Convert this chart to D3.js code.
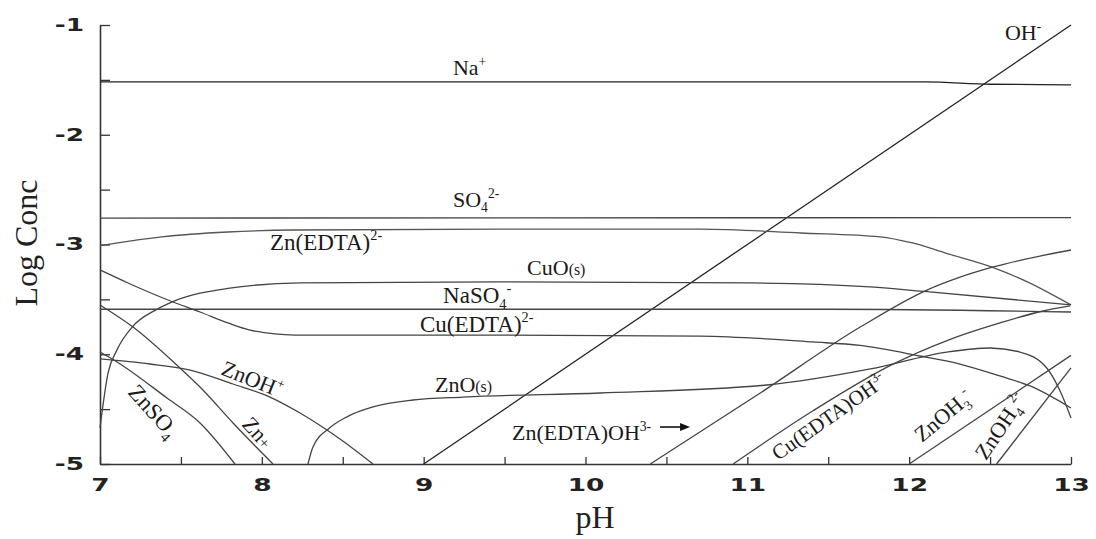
<!DOCTYPE html>
<html><head><meta charset="utf-8">
<script src="https://cdn.jsdelivr.net/npm/d3@7"></script>
<style>body{margin:0;background:#fff}svg{display:block}</style>
</head><body><svg id="c" width="1096" height="539"></svg>
<script>
// ---- data (pH, log concentration) ----
const xTicks = [7, 8, 9, 10, 11, 12, 13];
const yTicks = [-5, -4, -3, -2, -1];
const naPlus = [[7, -1.519], [12.1, -1.519], [12.5, -1.54], [13, -1.545]];
const ohMinus = [[9, -5], [13, -1]];
const so4 = [[7, -2.759], [13, -2.755]];
const znEdta = [[7.0, -3.01], [7.38, -2.93], [7.79, -2.886], [8.2, -2.868], [9.47, -2.86], [10.71, -2.86], [11.33, -2.895], [11.82, -2.93], [12.02, -2.986], [12.23, -3.08], [12.52, -3.21], [12.73, -3.34], [13.0, -3.55]];
const cuO = [[7.0, -4.67], [7.05, -4.17], [7.105, -3.96], [7.2, -3.75], [7.34, -3.6], [7.45, -3.52], [7.79, -3.4], [8.24, -3.35], [9.47, -3.34], [11.02, -3.35], [11.76, -3.387], [12.11, -3.43], [13.0, -3.55]];
const naSO4 = [[7, -3.59], [11.5, -3.59], [13, -3.615]];
const cuEdta = [[7.0, -3.232], [7.173, -3.351], [7.451, -3.524], [7.618, -3.615], [7.79, -3.715], [7.927, -3.78], [8.205, -3.825], [9.47, -3.825], [10.71, -3.834], [11.406, -3.888], [11.696, -3.92], [12.067, -4.016], [12.314, -4.089], [12.56, -4.198], [12.747, -4.289], [13.0, -4.49]];
const znO = [[8.285, -5.0], [8.316, -4.845], [8.42, -4.67], [8.526, -4.57], [8.687, -4.48], [8.934, -4.417], [9.243, -4.39], [10.09, -4.353], [11.12, -4.28], [11.76, -4.134], [12.234, -3.98], [12.5, -3.943], [12.685, -3.98], [12.85, -4.125], [12.93, -4.326], [13.0, -4.58]];
const znEdtaOH = [[10.4, -5.0], [11.08, -4.353], [11.7, -3.75], [12.11, -3.415], [12.31, -3.3], [12.52, -3.205], [13.0, -3.05]];
const cuEdtaOH = [[10.912, -5.0], [11.406, -4.515], [11.9, -4.09], [12.234, -3.875], [12.561, -3.715], [12.827, -3.606], [12.994, -3.56]];
const znOH3 = [[12.0, -5.0], [13.0, -4.01]];
const znOH4 = [[12.54, -5.0], [13.0, -4.125]];
const znOHplus = [[7.0, -4.043], [7.309, -4.089], [7.556, -4.144], [7.822, -4.271], [8.05, -4.39], [8.236, -4.535], [8.483, -4.772], [8.687, -5.0]];
const znPP = [[7.0, -3.551], [7.204, -3.752], [7.494, -4.125], [7.618, -4.298], [7.822, -4.626], [8.069, -5.0]];
const znSO4 = [[7.0, -3.98], [7.105, -4.07], [7.414, -4.399], [7.618, -4.626], [7.834, -5.0]];

const svg = d3.select('#c');
svg.append('rect').attr('width', 1096).attr('height', 539).attr('fill', '#fff');
const x = d3.scaleLinear().domain([7, 13]).range([100, 1071]);
const y = d3.scaleLinear().domain([-5, -1]).range([464, 25]);

// axes
const halfX = d3.range(7, 13.01, 0.5);
const halfY = d3.range(-5, -0.99, 0.5);
const fmt = d => Number.isInteger(d) ? String(d) : '';
const gx = svg.append('g').attr('transform', 'translate(0,464)')
  .call(d3.axisBottom(x).tickValues(halfX).tickFormat(fmt).tickSizeInner(-7).tickSizeOuter(0).tickPadding(15));
const gy = svg.append('g').attr('transform', 'translate(100,0)')
  .call(d3.axisLeft(y).tickValues(halfY).tickFormat(fmt).tickSizeInner(-10).tickSizeOuter(0).tickPadding(16));
[gx, gy].forEach(g => {
  g.select('.domain').attr('stroke', '#333').attr('stroke-width', 1.6);
  g.selectAll('.tick line').attr('stroke', '#333').attr('stroke-width', 1.3);
  g.selectAll('.tick text').attr('font-family', 'DejaVu Sans').attr('font-weight', 'bold')
    .attr('font-size', 17).attr('fill', '#222')
    .each(function () {
      const L = this.getComputedTextLength();
      if (L > 0) d3.select(this).attr('textLength', L * 1.55).attr('lengthAdjust', 'spacingAndGlyphs');
    });
});

// axis titles
svg.append('text').attr('x', 595).attr('y', 528).attr('text-anchor', 'middle')
  .attr('font-family', 'Liberation Serif').attr('font-size', 32).attr('fill', '#222').text('pH');
svg.append('text').attr('transform', 'translate(37,243) rotate(-90)').attr('text-anchor', 'middle')
  .attr('font-family', 'Liberation Serif').attr('font-size', 32).attr('fill', '#222').text('Log Conc');

// curves
const line = d3.line().x(d => x(d[0])).y(d => y(d[1])).curve(d3.curveMonotoneX);
const series = [
  [naPlus, '#222'], [ohMinus, '#222'], [so4, '#444'], [znEdta, '#555'], [cuO, '#444'],
  [naSO4, '#444'], [cuEdta, '#444'], [znO, '#444'], [znEdtaOH, '#444'], [cuEdtaOH, '#444'],
  [znOH3, '#444'], [znOH4, '#444'], [znOHplus, '#444'], [znPP, '#444'], [znSO4, '#444']
];
const gl = svg.append('g').attr('fill', 'none');
series.forEach(([d, c]) => gl.append('path').attr('d', line(d)).attr('stroke', c).attr('stroke-width', 1.3));

// labels
function label(parts, px, py, size, rot) {
  const X = x(px), Y = y(py);
  const t = svg.append('text').attr('x', X).attr('y', Y)
    .attr('font-family', 'Liberation Serif').attr('font-size', size).attr('fill', '#1a1a1a');
  if (rot) t.attr('transform', `rotate(${rot},${X},${Y})`);
  let cur = 0;
  parts.forEach(([s, k]) => {
    const target = k === 'sup' ? -0.42 * size : k === 'sub' ? 0.25 * size : 0;
    const fs = k === 'n' ? size : k === 'small' ? size * 0.72 : size * 0.62;
    t.append('tspan').attr('dy', target - cur).attr('font-size', fs).text(s);
    cur = target;
  });
  return t;
}
label([['Na', 'n'], ['+', 'sup']], 9.181, -1.456, 22);
label([['SO', 'n'], ['4', 'sub'], ['2-', 'sup']], 9.181, -2.658, 22);
label([['Zn(EDTA)', 'n'], ['2-', 'sup']], 8.05, -3.05, 23);
label([['CuO', 'n'], ['(s)', 'small']], 9.639, -3.278, 22);
label([['NaSO', 'n'], ['4', 'sub'], ['-', 'sup']], 9.12, -3.533, 23);
label([['Cu(EDTA)', 'n'], ['2-', 'sup']], 8.977, -3.797, 23);
label([['ZnO', 'n'], ['(s)', 'small']], 9.07, -4.344, 22);
label([['Zn(EDTA)OH', 'n'], ['3-', 'sup']], 9.546, -4.781, 22);
label([['OH', 'n'], ['-', 'sup']], 12.592, -1.137, 22);
label([['ZnOH', 'n'], ['+', 'sup']], 7.742, -4.18, 22, 22);
label([['ZnSO', 'n'], ['4', 'sub']], 7.167, -4.353, 23, 48);
label([['Zn', 'n'], ['+', 'small']], 7.871, -4.645, 22, 48);
label([['Cu(EDTA)OH', 'n'], ['3-', 'sup']], 11.19, -4.973, 21, -35);
label([['ZnOH', 'n'], ['3', 'sub'], ['-', 'sup']], 12.079, -4.809, 22, -40);
label([['ZnOH', 'n'], ['4', 'sub'], ['2-', 'sup']], 12.475, -4.973, 22, -56);

// arrow for Zn(EDTA)OH3-
const ax1 = x(10.46), ax2 = x(10.646), ay = y(-4.663);
svg.append('line').attr('x1', ax1).attr('x2', ax2 - 6).attr('y1', ay).attr('y2', ay).attr('stroke', '#111').attr('stroke-width', 1.6);
svg.append('path').attr('d', `M${ax2},${ay} L${ax2 - 10},${ay - 4} L${ax2 - 10},${ay + 4} Z`).attr('fill', '#111');
</script></body></html>
